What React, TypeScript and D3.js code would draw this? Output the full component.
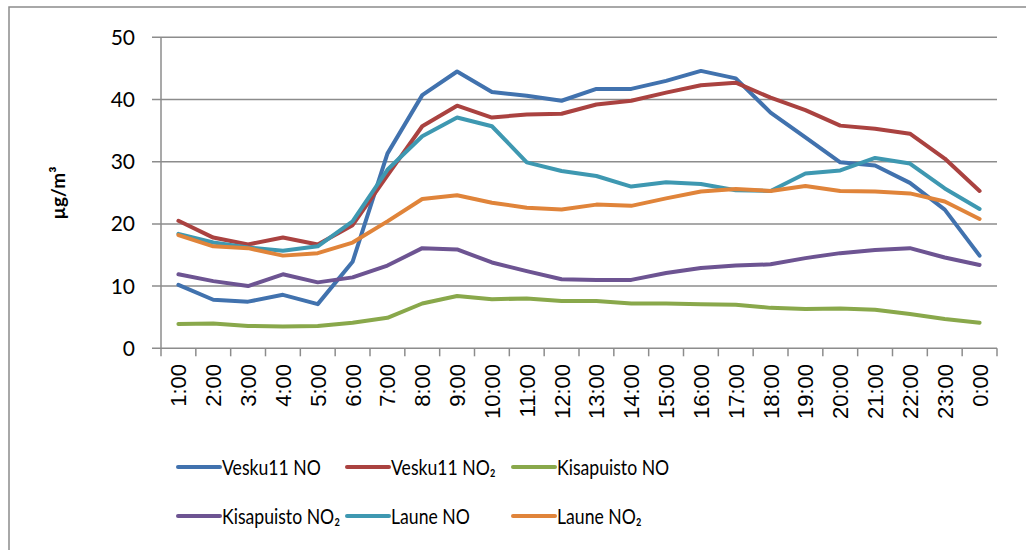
import React from "react";
import * as d3 from "d3";

const hours = ["1:00","2:00","3:00","4:00","5:00","6:00","7:00","8:00","9:00","10:00","11:00","12:00","13:00","14:00","15:00","16:00","17:00","18:00","19:00","20:00","21:00","22:00","23:00","0:00"];
const yTicks = [0, 10, 20, 30, 40, 50];

const vesku11NO = [10.2,7.8,7.5,8.6,7.1,13.9,31.3,40.7,44.5,41.2,40.6,39.8,41.7,41.7,43.0,44.6,43.4,37.9,33.9,29.9,29.4,26.6,22.3,14.9];
const vesku11NO2 = [20.5,17.8,16.7,17.8,16.7,19.8,27.8,35.7,39.0,37.1,37.6,37.7,39.2,39.8,41.1,42.3,42.7,40.3,38.3,35.8,35.3,34.5,30.5,25.3];
const kisapuistoNO = [3.9,4.0,3.6,3.5,3.6,4.1,4.9,7.2,8.4,7.9,8.0,7.6,7.6,7.2,7.2,7.1,7.0,6.5,6.3,6.4,6.2,5.5,4.7,4.1];
const kisapuistoNO2 = [11.9,10.8,10.0,11.9,10.6,11.4,13.3,16.1,15.9,13.8,12.4,11.1,11.0,11.0,12.1,12.9,13.3,13.5,14.5,15.3,15.8,16.1,14.6,13.4];
const launeNO = [18.4,17.0,16.2,15.7,16.4,20.4,28.7,34.1,37.1,35.7,29.9,28.5,27.7,26.0,26.7,26.4,25.4,25.3,28.1,28.6,30.6,29.7,25.7,22.4];
const launeNO2 = [18.2,16.4,16.1,14.9,15.3,17.0,20.4,24.0,24.6,23.4,22.6,22.3,23.1,22.9,24.1,25.2,25.6,25.3,26.1,25.3,25.2,24.9,23.6,20.8];

const seriesNames = ["Vesku11 NO", "Vesku11 NO₂", "Kisapuisto NO", "Kisapuisto NO₂", "Laune NO", "Laune NO₂"];
const seriesValues = [vesku11NO, vesku11NO2, kisapuistoNO, kisapuistoNO2, launeNO, launeNO2];
const seriesColors = ["#4172ae", "#aa4240", "#89a84b", "#6d5492", "#3e98b1", "#e0843a"];

export default function App() {
  const W = 1026, H = 550;
  const left = 161, right = 997, top = 37.3, bottom = 348.3;
  const x = d3.scaleBand<string>().domain(hours).range([left, right]);
  const y = d3.scaleLinear().domain([0, 50]).range([bottom, top]);
  const line = d3.line<number>()
    .x((_, i) => (x(hours[i]) as number) + x.bandwidth() / 2)
    .y((v) => y(v));
  const grid = "#8c8c8c";
  const legendPos = [
    [178, 467], [347, 467], [513, 467],
    [178, 516], [347, 516], [513, 516],
  ];
  return (
    <svg width={W} height={H} style={{ position: "absolute", left: 0, top: 0, display: "block" }}>
      <rect x={0} y={0} width={W} height={H} fill="#fff" />
      <rect x={9} y={7} width={W + 20} height={H + 20} fill="none" stroke={grid} strokeWidth={1.5} />
      {yTicks.map((t) => (
        <g key={t}>
          <line x1={left - 9} x2={right} y1={y(t)} y2={y(t)} stroke={grid} strokeWidth={1.5} />
          <text x={135} y={y(t)} dy="0.36em" textAnchor="end" fontFamily="Lato, 'Open Sans', sans-serif" fontSize={21} fill="#000">{t}</text>
        </g>
      ))}
      <line x1={left} x2={left} y1={top} y2={bottom} stroke={grid} strokeWidth={1.5} />
      {hours.map((h, i) => (
        <line key={"t" + i} x1={(x(h) as number) + x.bandwidth()} x2={(x(h) as number) + x.bandwidth()} y1={bottom} y2={bottom + 8} stroke={grid} strokeWidth={1.5} />
      ))}
      <line x1={left} x2={left} y1={bottom} y2={bottom + 8} stroke={grid} strokeWidth={1.5} />
      {hours.map((h) => {
        const cx = (x(h) as number) + x.bandwidth() / 2;
        return (
          <text key={h} transform={`translate(${cx},364) rotate(-90)`} textAnchor="end" dy="0.36em" fontFamily="'Liberation Sans', Arial, sans-serif" fontSize={22} fill="#000">{h}</text>
        );
      })}
      <text transform="translate(58,193) rotate(-90)" textAnchor="middle" dy="0.35em" fontFamily="Lato, 'Open Sans', sans-serif" fontWeight="bold" fontSize={19} fill="#000">µg/m³</text>
      {seriesValues.map((vals, k) => (
        <path key={k} d={line(vals) as string} fill="none" stroke={seriesColors[k]} strokeWidth={4} strokeLinejoin="round" strokeLinecap="round" />
      ))}
      {seriesNames.map((n, k) => {
        const [lx, ly] = legendPos[k];
        return (
          <g key={n}>
            <line x1={lx} x2={lx + 42} y1={ly} y2={ly} stroke={seriesColors[k]} strokeWidth={4} strokeLinecap="round" />
            <text transform={`translate(${lx + 44},${ly}) scale(0.84,1)`} dy="0.36em" fontFamily="Lato, 'Open Sans', sans-serif" fontSize={21} fill="#000">{n}</text>
          </g>
        );
      })}
    </svg>
  );
}
